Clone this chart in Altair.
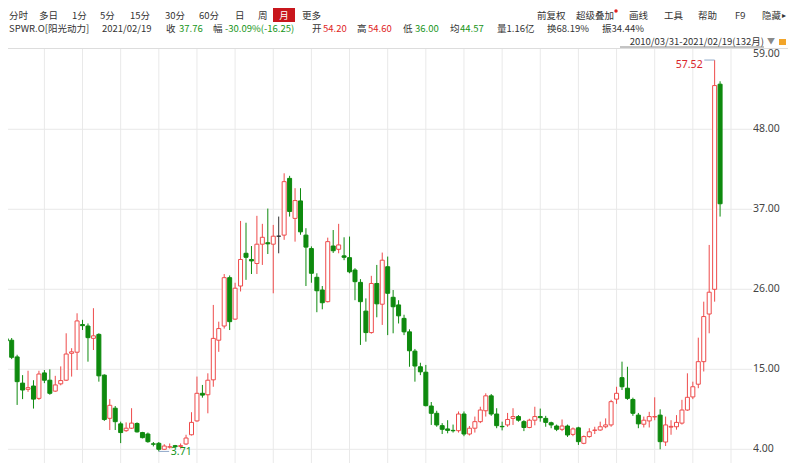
import altair as alt
import pandas as pd
import numpy as np

# ---------------- data (monthly candles 2010/03 - 2021/02) ----------------
months = pd.date_range("2010-03-01", periods=132, freq="MS").strftime("%Y-%m").tolist()

opens = [19.2, 19.0, 16.7, 13.1, 12.25, 12.7, 11.0, 14.5, 13.5, 12.0,
         13.0, 13.5, 17.2, 17.35, 21.15, 20.95, 19.26, 19.8, 14.2, 8.26,
         9.65, 7.5, 6.56, 6.9, 7.55, 6.3, 6.1, 4.75, 4.82, 4.0,
         4.3, 4.5, 4.4, 4.73, 6.0, 7.9, 11.7, 11.5, 13.55, 19.0,
         20.95, 27.6, 21.9, 26.45, 30.95, 30.1, 29.55, 32.2, 32.4, 32.2,
         33.3, 33.45, 41.25, 35.75, 38.15, 33.45, 31.6, 27.65, 25.9, 24.3,
         31.95, 31.5, 30.6, 30.35, 28.65, 26.95, 23.0, 20.05, 26.8, 23.95,
         29.1, 24.9, 23.85, 22.0, 20.15, 17.5, 15.35, 14.6, 9.95, 8.95,
         7.25, 6.8, 6.6, 6.56, 8.85, 6.1, 6.9, 7.8, 9.3, 11.35,
         8.85, 7.15, 7.35, 8.25, 8.5, 7.8, 7.0, 8.0, 8.5, 8.25,
         7.65, 7.2, 6.75, 7.2, 6.05, 6.95, 4.82, 5.75, 6.6, 6.65,
         7.1, 7.35, 10.9, 13.85, 12.4, 10.85, 8.7, 7.45, 7.9, 8.45,
         8.7, 5.0, 7.05, 7.1, 7.6, 9.4, 11.2, 12.95, 16.05, 22.6,
         26.0, 54.2]
highs = [22.2, 19.3, 17.0, 14.2, 14.8, 13.5, 14.8, 14.9, 15.0, 14.1,
         15.4, 19.95, 17.9, 22.7, 21.8, 21.3, 23.4, 19.95, 14.3, 10.9,
         9.95, 7.8, 7.7, 9.65, 7.7, 6.4, 6.3, 5.0, 5.0, 4.7,
         4.8, 4.6, 4.8, 6.0, 9.1, 14.0, 12.85, 14.45, 23.85, 21.55,
         28.1, 27.9, 26.9, 35.4, 35.15, 31.95, 36.1, 35.0, 37.1, 34.85,
         36.0, 41.95, 41.6, 39.9, 39.9, 34.4, 31.9, 28.2, 26.45, 33.1,
         34.15, 35.0, 33.15, 33.25, 28.9, 27.4, 24.75, 27.85, 29.35, 31.05,
         30.5, 25.9, 24.5, 22.5, 20.5, 17.8, 15.9, 15.6, 10.5, 9.3,
         7.6, 8.0, 7.4, 9.2, 9.2, 7.2, 8.5, 9.85, 11.7, 11.6,
         9.65, 7.8, 9.0, 9.65, 8.7, 8.0, 8.2, 9.85, 9.6, 8.6,
         7.8, 7.4, 8.1, 7.4, 7.0, 7.1, 5.9, 6.9, 7.1, 7.8,
         8.25, 10.8, 12.6, 16.05, 15.35, 11.1, 9.0, 8.5, 9.15, 11.15,
         9.5, 8.5, 8.0, 8.7, 10.8, 14.45, 13.3, 19.35, 24.3, 32.1,
         57.52, 54.6]
lows = [17.0, 16.4, 10.1, 10.9, 11.9, 9.6, 10.8, 13.1, 11.5, 11.9,
        12.8, 13.4, 14.0, 14.9, 20.4, 16.05, 17.65, 13.3, 7.9, 6.65,
        6.65, 4.85, 6.4, 6.8, 6.3, 5.5, 4.9, 4.4, 3.71, 3.9,
        4.1, 4.2, 4.1, 4.6, 5.9, 7.8, 11.1, 8.95, 12.6, 17.4,
        20.6, 20.4, 21.8, 25.7, 27.3, 28.1, 28.1, 29.35, 30.85, 25.45,
        30.95, 32.8, 36.0, 32.55, 33.5, 26.45, 26.9, 22.85, 23.25, 24.2,
        31.0, 30.95, 30.0, 28.2, 24.5, 18.35, 18.8, 19.9, 22.15, 21.1,
        19.7, 19.95, 21.3, 19.7, 15.35, 13.3, 14.2, 9.9, 7.35, 7.1,
        6.1, 6.2, 6.3, 6.3, 5.8, 5.9, 6.3, 7.6, 8.5, 8.6,
        6.9, 6.6, 7.1, 7.35, 7.8, 6.5, 6.9, 7.3, 7.8, 7.1,
        6.9, 6.5, 6.5, 5.7, 5.8, 4.6, 4.7, 5.6, 6.1, 6.55,
        6.9, 7.1, 10.25, 12.15, 10.8, 8.6, 6.9, 7.0, 7.0, 8.0,
        4.0, 4.45, 6.0, 6.7, 7.4, 9.3, 10.9, 12.4, 14.7, 19.95,
        24.3, 36.0]
closes = [18.9, 16.65, 13.3, 12.15, 12.47, 10.9, 14.35, 13.5, 11.7, 12.85,
          13.45, 17.1, 17.4, 21.65, 21.0, 19.35, 19.6, 14.1, 8.1, 10.05,
          7.8, 6.3, 6.9, 7.6, 6.4, 5.6, 5.05, 4.7, 4.0, 4.45,
          4.35, 4.35, 4.5, 5.55, 7.7, 11.7, 11.45, 13.5, 19.25, 20.6,
          27.6, 21.55, 26.15, 30.1, 30.4, 29.9, 32.2, 33.15, 32.25, 33.3,
          33.3, 40.8, 36.7, 38.2, 33.9, 31.8, 28.2, 25.8, 24.15, 32.55,
          31.3, 32.1, 30.4, 28.4, 27.05, 24.3, 20.05, 26.8, 24.0, 30.0,
          25.45, 23.6, 22.35, 20.15, 17.55, 15.45, 14.65, 10.0, 8.95, 7.35,
          6.75, 6.6, 6.55, 8.85, 6.1, 6.9, 7.8, 9.4, 11.35, 8.85,
          7.25, 7.1, 8.1, 8.5, 8.0, 7.0, 8.0, 8.5, 8.35, 7.7,
          7.35, 6.75, 7.2, 5.97, 6.8, 5.05, 5.75, 6.4, 6.65, 7.1,
          7.35, 10.55, 11.7, 12.6, 11.0, 8.95, 7.5, 8.0, 8.5, 8.5,
          5.05, 7.35, 7.15, 7.7, 9.4, 11.15, 12.6, 16.05, 22.25, 25.6,
          54.01, 37.76]
price_ticks = [4, 15, 26, 37, 48, 59]

# ---------------- styling ----------------
OFF = 8                 # page margin
W, H = 780, 455
RED = "#ee4b4b"
GREEN = "#0e8a0e"
FLAT = "#333333"
TXT = "#333333"
VRED = "#e02424"
VGREEN = "#17951a"
GRID = "#e9e9e9"
CJK = "Noto Sans CJK SC"
FS = 9.5

df = pd.DataFrame({"idx": np.arange(132), "month": months, "open": opens,
                   "high": highs, "low": lows, "close": closes})
df["dir"] = np.where(df["close"] > df["open"], "up",
                     np.where(df["close"] < df["open"], "down", "flat"))

xs = alt.Scale(domain=[6.85 / 5.52, (W + 6.85) / 5.52], nice=False, zero=False)
ys = alt.Scale(domain=[4 - (H - 441.3) / 7.273, 4 + 441.3 / 7.273], nice=False, zero=False)
cs = alt.Scale(domain=["up", "down", "flat"], range=[RED, GREEN, FLAT])
fs = alt.Scale(domain=["up", "down", "flat"], range=["#ffffff", GREEN, FLAT])

X = lambda f: alt.X(f, scale=xs, axis=None)
Y = lambda f: alt.Y(f, scale=ys, axis=None)

one = pd.DataFrame({"v": [0]})


def T(s, x, y, color=TXT, size=FS, align="left", font=CJK, weight="normal"):
    return alt.Chart(one).mark_text(text=s, align=align, baseline="middle", font=font,
                                    fontSize=size, color=color, fontWeight=weight).encode(
        x=alt.value(x - OFF), y=alt.value(y - OFF))


# grid
vgrid = alt.Chart(pd.DataFrame({"g": list(range(7, 134, 7))})).mark_rule(
    color=GRID, strokeWidth=1).encode(x=X("g:Q"), y=alt.value(49 - OFF), y2=alt.value(H))
hgrid = alt.Chart(pd.DataFrame({"p": price_ticks[:-1]})).mark_rule(
    color=GRID, strokeWidth=1).encode(y=Y("p:Q"), x=alt.value(0), x2=alt.value(752 - OFF))
topline = alt.Chart(one).mark_rule(color="#dddddd").encode(
    x=alt.value(0), x2=alt.value(W), y=alt.value(48.5 - OFF))

ticks_df = pd.DataFrame({"p": price_ticks})
ticks_df["lab"] = ticks_df["p"].map(lambda v: f"{v:.2f}")
ylab = alt.Chart(ticks_df).mark_text(align="left", baseline="middle", font="Noto Sans",
                                     fontSize=10.5, color="#444").encode(
    x=alt.value(753 - OFF), y=Y("p:Q"), text="lab:N").transform_filter("datum.p < 59")
ylab_top = alt.Chart(ticks_df).mark_text(align="left", baseline="middle", font="Noto Sans",
                                         fontSize=10.5, color="#444", dy=5).encode(
    x=alt.value(753 - OFF), y=Y("p:Q"), text="lab:N").transform_filter("datum.p >= 59")

# candles
base = alt.Chart(df)
wick = base.mark_rule(strokeWidth=1).encode(
    x=X("idx:Q"), y=Y("low:Q"), y2="high:Q",
    color=alt.Color("dir:N", scale=cs, legend=None))
body = base.mark_bar(size=4, strokeWidth=1).encode(
    x=X("idx:Q"), y=Y("open:Q"), y2="close:Q",
    fill=alt.Fill("dir:N", scale=fs, legend=None),
    stroke=alt.Stroke("dir:N", scale=cs, legend=None))

# extreme annotations
imax = int(df["high"].idxmax())
imin = int(df["low"].idxmin())
mx = df.loc[[imax]].assign(lab=lambda d: d["high"].map(lambda v: f"{v:.2f}"),
                           xa=lambda d: d["idx"] - 1.9)
mn = df.loc[[imin]].assign(lab=lambda d: d["low"].map(lambda v: f"{v:.2f}"),
                           xa=lambda d: d["idx"] + 1.9)
max_txt = alt.Chart(mx).mark_text(align="right", baseline="middle", dx=-12, dy=5,
                                  font="Noto Sans", fontSize=10.5, color="#d9252b").encode(
    x=X("idx:Q"), y=Y("high:Q"), text="lab:N")
max_ln = alt.Chart(mx).mark_rule(color="#8fa8c8", strokeWidth=1).encode(
    x=X("xa:Q"), x2="idx:Q", y=Y("high:Q"), y2="high:Q")
min_txt = alt.Chart(mn).mark_text(align="left", baseline="middle", dx=12, dy=1,
                                  font="Noto Sans", fontSize=10.5, color=VGREEN).encode(
    x=X("idx:Q"), y=Y("low:Q"), text="lab:N")
min_ln = alt.Chart(mn).mark_rule(color="#8fa8c8", strokeWidth=1).encode(
    x=X("idx:Q"), x2="xa:Q", y=Y("low:Q"), y2="low:Q")

# header
r1, r2, r3 = 15.5, 29, 42
hdr = [
    T("分时", 9, r1), T("多日", 39, r1), T("1分", 72, r1), T("5分", 100, r1),
    T("15分", 130, r1), T("30分", 165, r1), T("60分", 199, r1), T("日", 235, r1),
    T("周", 258, r1),
    alt.Chart(one).mark_rect(color="#c8161d").encode(
        x=alt.value(273 - OFF), x2=alt.value(295 - OFF), y=alt.value(0), y2=alt.value(22 - OFF)),
    T("月", 284, r1, color="#ffffff", align="center"),
    T("更多", 302, r1),
    T("前复权", 537, r1), T("超级叠加", 576, r1),
    alt.Chart(one).mark_point(filled=True, size=12, color="#e02020", opacity=1).encode(
        x=alt.value(616 - OFF), y=alt.value(11 - OFF)),
    T("画线", 629, r1), T("工具", 664, r1), T("帮助", 698, r1),
    T("F9", 735, r1, font="Noto Sans"), T("隐藏", 762, r1),
    T("▸", 786, r1, size=8, align="right"),
    T("SPWR.O[阳光动力]", 9, r2),
    T("2021/02/19", 102, r2),
    T("收", 166, r2), T("37.76", 179, r2, color=VGREEN),
    T("幅", 213, r2), T("-30.09%(-16.25)", 225, r2, color=VGREEN),
    T("开", 312, r2), T("54.20", 323, r2, color=VRED),
    T("高", 357, r2), T("54.60", 368, r2, color=VRED),
    T("低", 403, r2), T("36.00", 415, r2, color=VGREEN),
    T("均", 450, r2), T("44.57", 460, r2, color=VGREEN),
    T("量1.16亿", 497, r2), T("换68.19%", 547, r2), T("振34.44%", 602, r2),
    T("2010/03/31-2021/02/19(132月)", 764, r3, align="right"),
    alt.Chart(one).mark_rule(color="#888888").encode(
        x=alt.value(620 - OFF), x2=alt.value(764 - OFF), y=alt.value(47 - OFF)),
    T("▼", 771, r3, color="#8a8a8a", size=8, align="center"),
    alt.Chart(one).mark_rect(color="#f2a52a").encode(
        x=alt.value(779 - OFF), x2=alt.value(786 - OFF), y=alt.value(39 - OFF), y2=alt.value(45 - OFF)),
]

chart = alt.layer(
    vgrid, hgrid, topline, wick, body, max_ln, min_ln, max_txt, min_txt, ylab, ylab_top, *hdr
).properties(
    width=W, height=H, padding=0, autosize=alt.AutoSizeParams(type="none"),
    background="#ffffff"
).configure_view(strokeWidth=0)

chart.save("out.html", embed_options={"renderer": "svg", "actions": False})
